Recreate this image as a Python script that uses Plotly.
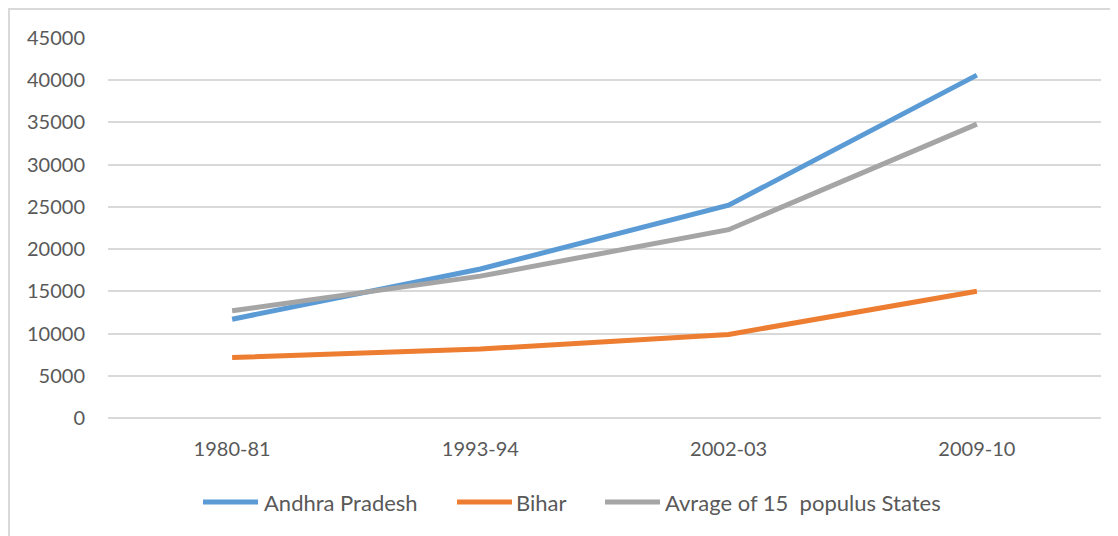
import plotly.graph_objects as go

years = ["1980-81", "1993-94", "2002-03", "2009-10"]
andhra = [11700, 17650, 25200, 40600]
bihar = [7150, 8170, 9900, 15000]
avg15 = [12700, 16800, 22300, 34800]

names = ["Andhra Pradesh", "Bihar", "Avrage of 15  populus States"]
colors = ["#5b9bd5", "#ed7d31", "#a5a5a5"]
values = [andhra, bihar, avg15]

W, H = 1110, 528
L, R, T, B = 100, 17, 30, 118
PW, PH = W - L - R, H - T - B

def px(fx):
    return (fx - L) / PW

def py(fy):
    return (H - B - fy) / PH

fig = go.Figure()
for name, vals, col in zip(names, values, colors):
    fig.add_trace(go.Scatter(x=years, y=vals, name=name, mode="lines",
                             line=dict(color=col, width=5)))

font_col = "#595959"
FONT = "Lato, Open Sans, sans-serif"

# custom legend (line swatch + label), positioned in figure pixels
leg_line_x = [(195, 250), (449, 504), (597, 652)]
leg_text_x = [254, 506, 655]
leg_y = 494
shapes = [dict(type="rect", xref="paper", yref="paper",
               x0=px(1), x1=px(W + 20), y0=py(H + 20), y1=py(1),
               line=dict(color="#d9d9d9", width=2), layer="below")]
annotations = []
for (x0, x1), tx, name, col in zip(leg_line_x, leg_text_x, names, colors):
    shapes.append(dict(type="line", xref="paper", yref="paper",
                       x0=px(x0), x1=px(x1), y0=py(leg_y), y1=py(leg_y),
                       line=dict(color=col, width=5)))
    annotations.append(dict(xref="paper", yref="paper", x=px(tx), y=py(leg_y),
                            xanchor="left", yanchor="middle", showarrow=False,
                            text=name.replace("  ", "\u00a0 "),
                            font=dict(family=FONT, size=22, color=font_col)))

fig.update_layout(
    width=W, height=H,
    margin=dict(l=L, r=R, t=T, b=B),
    paper_bgcolor="white", plot_bgcolor="white",
    font=dict(family=FONT, size=20, color=font_col),
    showlegend=False,
    xaxis=dict(type="category", range=[-0.5, 3.5], showgrid=False, showline=False,
               ticks="", ticklabelstandoff=17, tickfont=dict(size=20)),
    yaxis=dict(range=[0, 45000], dtick=5000, showgrid=True, gridcolor="#d9d9d9",
               gridwidth=1.5, zeroline=True, zerolinecolor="#d9d9d9", zerolinewidth=1.5,
               showline=False, ticks="", ticklabelstandoff=22, tickformat="d",
               tickfont=dict(size=20)),
    shapes=shapes,
    annotations=annotations,
)

fig.write_html("out.html")
